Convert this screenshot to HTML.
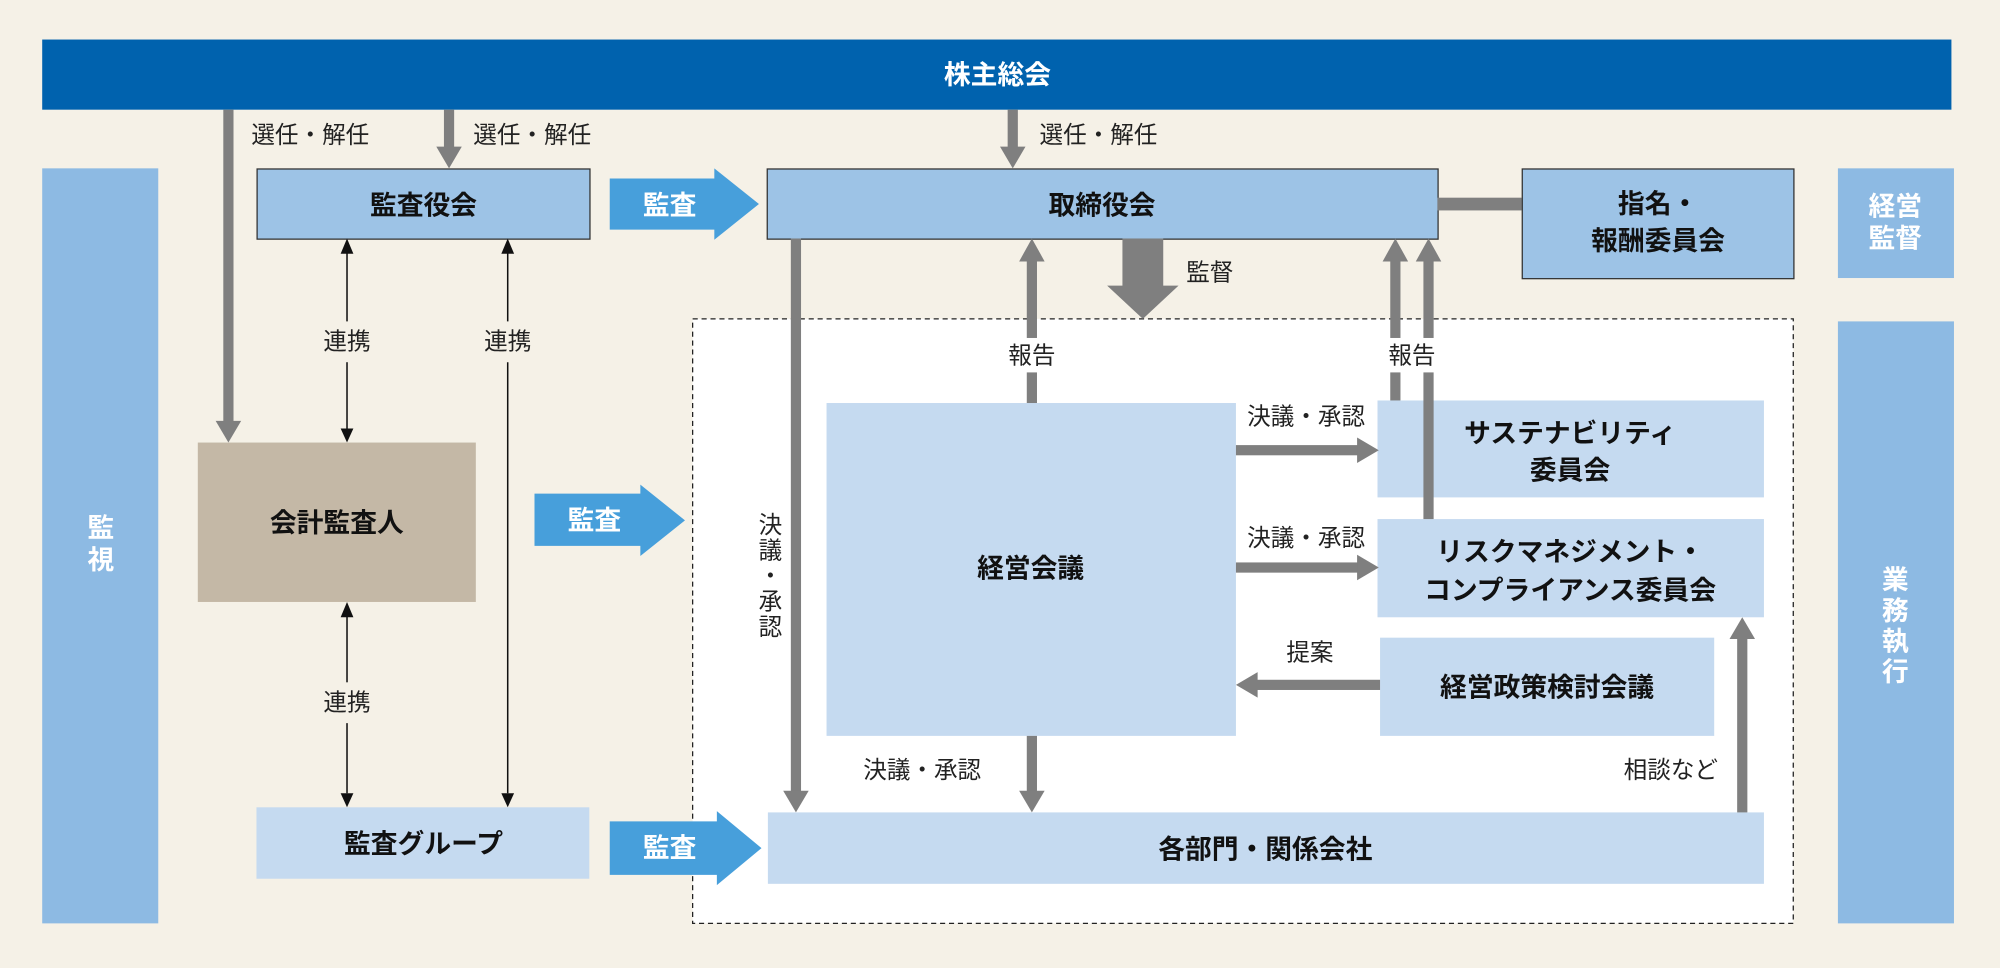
<!DOCTYPE html>
<html><head><meta charset="utf-8"><style>
html,body{margin:0;padding:0;background:#f5f1e7;}
svg{display:block;}
text{font-family:"Liberation Sans","Noto Sans CJK JP",sans-serif;}
.b{font-weight:bold;font-size:21px;fill:#111;}
.s{font-size:18.5px;fill:#222;}
.w{font-weight:bold;font-size:21px;fill:#fff;}
</style></head><body>
<svg width="2000" height="968" viewBox="0 0 1568 759" xmlns="http://www.w3.org/2000/svg">
<rect width="1568" height="759" fill="#f5f1e7"/>
<rect x="33" y="31" width="1497" height="55" fill="#0062ae"/>
<text x="782" y="66" text-anchor="middle" class="w">株主総会</text>
<rect x="33" y="132" width="91" height="592" fill="#8dbae3"/>
<text x="79" y="421" text-anchor="middle" class="w">監</text>
<text x="79" y="446" text-anchor="middle" class="w">視</text>
<rect x="1441" y="132" width="91" height="86" fill="#8dbae3"/>
<text x="1486" y="169" text-anchor="middle" class="w">経営</text>
<text x="1486" y="194" text-anchor="middle" class="w">監督</text>
<rect x="1441" y="252" width="91" height="472" fill="#8dbae3"/>
<text x="1486" y="462" text-anchor="middle" class="w">業</text>
<text x="1486" y="486" text-anchor="middle" class="w">務</text>
<text x="1486" y="510" text-anchor="middle" class="w">執</text>
<text x="1486" y="534" text-anchor="middle" class="w">行</text>
<rect x="543" y="250" width="863" height="474" fill="#fff" stroke="#222" stroke-width="1" stroke-dasharray="4,3"/>
<rect x="201.5" y="132.5" width="261" height="55" fill="#9dc3e6" stroke="#333"/>
<text x="332" y="168" text-anchor="middle" class="b">監査役会</text>
<rect x="601.5" y="132.5" width="526" height="55" fill="#9dc3e6" stroke="#333"/>
<text x="864" y="168" text-anchor="middle" class="b">取締役会</text>
<rect x="1127" y="155" width="66" height="10" fill="#7f7f7f"/>
<rect x="1193.5" y="132.5" width="213" height="86" fill="#9dc3e6" stroke="#333"/>
<text x="1300" y="167" text-anchor="middle" class="b">指名・</text>
<text x="1300" y="196" text-anchor="middle" class="b">報酬委員会</text>
<rect x="155" y="347" width="218" height="125" fill="#c4b8a6"/>
<text x="264" y="417" text-anchor="middle" class="b">会計監査人</text>
<rect x="201" y="633" width="261" height="56" fill="#c5daf0"/>
<text x="332" y="669" text-anchor="middle" class="b">監査グループ</text>
<rect x="648" y="316" width="321" height="261" fill="#c5daf0"/>
<text x="808" y="453" text-anchor="middle" class="b">経営会議</text>
<rect x="1080" y="314" width="303" height="76" fill="#c5daf0"/>
<text x="1231" y="347" text-anchor="middle" class="b">サステナビリティ</text>
<text x="1231" y="376" text-anchor="middle" class="b">委員会</text>
<rect x="1080" y="407" width="303" height="77" fill="#c5daf0"/>
<text x="1231" y="440" text-anchor="middle" class="b">リスクマネジメント・</text>
<text x="1231" y="470" text-anchor="middle" class="b">コンプライアンス委員会</text>
<rect x="1082" y="500" width="262" height="77" fill="#c5daf0"/>
<text x="1213" y="546" text-anchor="middle" class="b">経営政策検討会議</text>
<rect x="602" y="637" width="781" height="56" fill="#c5daf0"/>
<text x="992" y="673" text-anchor="middle" class="b">各部門・関係会社</text>
<g fill="#479fdb">
<polygon points="478,140 560,140 560,132 595,160 560,188 560,180 478,180"/>
<polygon points="419,387 502,387 502,380 537,408 502,436 502,428 419,428"/>
<polygon points="478,644 562,644 562,636 597,665 562,694 562,686 478,686"/>
</g>
<text x="525" y="168" text-anchor="middle" class="w">監査</text>
<text x="466" y="415" text-anchor="middle" class="w">監査</text>
<text x="525" y="672" text-anchor="middle" class="w">監査</text>
<g fill="#7f7f7f">
<rect x="175" y="86" width="8" height="245"/><polygon points="169,330 189,330 179,347"/>
<rect x="348" y="86" width="8" height="30"/><polygon points="342,115 362,115 352,132"/>
<rect x="790" y="86" width="8" height="30"/><polygon points="784,115 804,115 794,132"/>
<rect x="880" y="187" width="32" height="38"/><polygon points="868,224 924,224 896,250"/>
<rect x="805" y="203" width="8" height="62"/><rect x="805" y="292" width="8" height="24"/><polygon points="799,205 819,205 809,187"/>
<rect x="1090" y="203" width="8" height="62"/><rect x="1090" y="292" width="8" height="22"/><polygon points="1084,205 1104,205 1094,187"/>
<rect x="1116" y="203" width="8" height="62"/><rect x="1116" y="292" width="8" height="115"/><polygon points="1110,205 1130,205 1120,187"/>
<rect x="620" y="187" width="8" height="434"/><polygon points="614,620 634,620 624,637"/>
<rect x="805" y="577" width="8" height="44"/><polygon points="799,620 819,620 809,637"/>
<rect x="969" y="349" width="96" height="8"/><polygon points="1064,343 1064,363 1081,353"/>
<rect x="969" y="441" width="96" height="8"/><polygon points="1064,435 1064,455 1081,445"/>
<rect x="985" y="533" width="97" height="8"/><polygon points="986,527 986,547 969,537"/>
<rect x="1362" y="500" width="8" height="137"/><polygon points="1356,501 1376,501 1366,484"/>
</g>
<g stroke="#111" stroke-width="1.2">
<line x1="272" y1="198" x2="272" y2="252"/><line x1="272" y1="284" x2="272" y2="336"/>
<line x1="398" y1="198" x2="398" y2="252"/><line x1="398" y1="284" x2="398" y2="622"/>
<line x1="272" y1="483" x2="272" y2="535"/><line x1="272" y1="567" x2="272" y2="622"/>
</g>
<g fill="#111">
<polygon points="267,199 277,199 272,187"/><polygon points="267,336 277,336 272,347"/>
<polygon points="393,199 403,199 398,187"/><polygon points="393,622 403,622 398,633"/>
<polygon points="267,484 277,484 272,472"/><polygon points="267,622 277,622 272,633"/>
</g>
<text x="197" y="112" class="s">選任・解任</text>
<text x="371" y="112" class="s">選任・解任</text>
<text x="815" y="112" class="s">選任・解任</text>
<text x="930" y="220" class="s">監督</text>
<text x="809" y="285" text-anchor="middle" class="s">報告</text>
<text x="1107" y="285" text-anchor="middle" class="s">報告</text>
<text x="272" y="274" text-anchor="middle" class="s">連携</text>
<text x="398" y="274" text-anchor="middle" class="s">連携</text>
<text x="272" y="557" text-anchor="middle" class="s">連携</text>
<text x="1024" y="333" text-anchor="middle" class="s">決議・承認</text>
<text x="1024" y="428" text-anchor="middle" class="s">決議・承認</text>
<text x="1027" y="518" text-anchor="middle" class="s">提案</text>
<text x="723" y="610" text-anchor="middle" class="s">決議・承認</text>
<text x="1310" y="610" text-anchor="middle" class="s">相談など</text>
<text x="604" y="418" text-anchor="middle" class="s">決</text>
<text x="604" y="438" text-anchor="middle" class="s">議</text>
<text x="604" y="458" text-anchor="middle" class="s">・</text>
<text x="604" y="478" text-anchor="middle" class="s">承</text>
<text x="604" y="498" text-anchor="middle" class="s">認</text>
</svg>
</body></html>
